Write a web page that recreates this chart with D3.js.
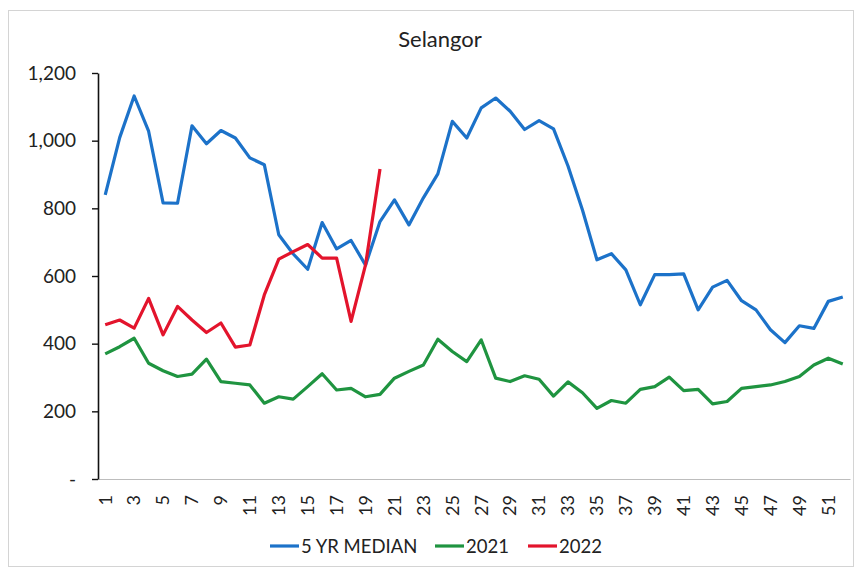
<!DOCTYPE html>
<html>
<head>
<meta charset="utf-8">
<script src="https://cdn.jsdelivr.net/npm/d3@7"></script>
<style>
  body { margin: 0; background: #fff; }
  text { font-family: "Lato", "Open Sans", sans-serif; fill: #222; }
</style>
</head>
<body>
<script>
// Data
const weeks = d3.range(1, 53);
const median5yr = [840, 1009, 1132, 1028, 816, 815, 1044, 991, 1030, 1008,
  949, 929, 722, 665, 620, 758, 680, 705, 632, 761,
  825, 751, 831, 902, 1057, 1008, 1097, 1126, 1087, 1033,
  1059, 1035, 925, 795, 648, 666, 618, 515, 604, 604,
  606, 500, 567, 587, 527, 500, 441, 403, 453, 445, 525, 538];
const y2021 = [370, 391, 416, 342, 320, 303, 310, 354, 288, 283,
  278, 224, 243, 236, 273, 311, 263, 268, 243, 250,
  298, 318, 337, 413, 377, 347, 411, 298, 288, 305,
  295, 245, 287, 255, 209, 232, 224, 265, 273, 301,
  261, 265, 222, 229, 268, 273, 278, 288, 303, 337, 357, 340];
const y2022 = [456, 470, 446, 534, 426, 510, 470, 433, 461, 390,
  396, 544, 650, 672, 693, 653, 653, 466, 633, 916];
const yTicks = [0, 200, 400, 600, 800, 1000, 1200];
const xTickLabels = weeks.filter(d => d % 2 === 1);

const seriesList = [
  { name: "5 YR MEDIAN", values: median5yr, color: "#1c72c9" },
  { name: "2021", values: y2021, color: "#1f9440" },
  { name: "2022", values: y2022, color: "#e3142c" }
];

const W = 856, H = 571;
const svg = d3.select("body").append("svg")
  .attr("width", W).attr("height", H);

// outer frame
svg.append("rect")
  .attr("x", 8.5).attr("y", 10.5)
  .attr("width", 845).attr("height", 556)
  .attr("fill", "none").attr("stroke", "#d4d4d4");

const xScale = d3.scaleBand().domain(weeks).range([98, 850]).padding(0);
const yScale = d3.scaleLinear().domain([0, 1200]).range([479, 73]);
const cx = d => xScale(d) + xScale.bandwidth() / 2;

// title
svg.append("text")
  .attr("x", 440).attr("y", 47)
  .attr("text-anchor", "middle")
  .style("font-size", "22px")
  .text("Selangor");

// x axis
const xAxis = svg.append("g")
  .attr("transform", `translate(0,${yScale(0)})`)
  .call(d3.axisBottom(xScale).tickValues(xTickLabels).tickSize(0));
xAxis.select(".domain").attr("stroke", "#bdbdbd").attr("stroke-width", 1.2);
xAxis.selectAll("text")
  .attr("transform", "rotate(-90)")
  .attr("x", -16).attr("y", 0).attr("dy", "0.35em")
  .style("text-anchor", "end")
  .style("font-size", "18px");

// y axis
const yAxis = svg.append("g")
  .attr("transform", `translate(98,0)`)
  .call(d3.axisLeft(yScale)
    .tickValues(yTicks)
    .tickSize(6).tickSizeOuter(0)
    .tickPadding(16)
    .tickFormat(d => d === 0 ? "-" : d3.format(",")(d)));
yAxis.select(".domain").attr("stroke", "#111").attr("stroke-width", 1.6);
yAxis.selectAll(".tick line").attr("stroke", "#111").attr("stroke-width", 1.4);
yAxis.selectAll("text").style("font-size", "19px");

// lines
const line = d3.line()
  .x((d, i) => cx(weeks[i]))
  .y(d => yScale(d));

seriesList.forEach(s => {
  svg.append("path")
    .datum(s.values)
    .attr("fill", "none")
    .attr("stroke", s.color)
    .attr("stroke-width", 3.2)
    .attr("stroke-linejoin", "round")
    .attr("d", line);
});

// legend
const legendPos = [270, 435, 528];
const legend = svg.append("g").attr("transform", "translate(0,546)");
seriesList.forEach((s, i) => {
  const g = legend.append("g").attr("transform", `translate(${legendPos[i]},0)`);
  g.append("line")
    .attr("x1", 0).attr("x2", 29)
    .attr("stroke", s.color).attr("stroke-width", 3.2);
  g.append("text")
    .attr("x", 31).attr("dy", "0.36em")
    .style("font-size", "18.5px")
    .text(s.name);
});
</script>
</body>
</html>
